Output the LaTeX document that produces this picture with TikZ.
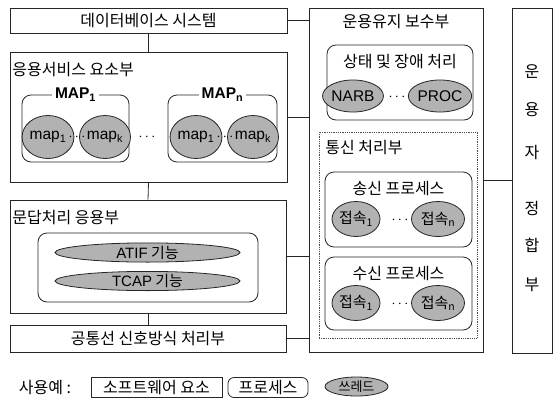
\documentclass[tikz,border=0pt]{standalone}
\usepackage{fontspec}
\setmainfont{Noto Sans CJK KR}
\newfontfamily\lat{Liberation Sans}
\usetikzlibrary{shapes.geometric}
\tikzset{
        every picture/.style={line width=0.8pt},
        sysbox/.style={draw=black!85, rectangle, inner sep=0pt, font=\fontsize{16}{18}\selectfont},
        procbox/.style={draw=black!85, rectangle, rounded corners=9pt, inner sep=0pt},
        dotbox/.style={draw=black!70, densely dotted, rectangle, inner sep=0pt},
        thread/.style={draw=black!85, ellipse, inner sep=0pt, fill=black!30, font=\fontsize{15}{17}\selectfont},
        latthread/.style={thread, font=\fontsize{15.5}{17}\selectfont\lat},
        title/.style={inner sep=0pt, font=\fontsize{16}{18}\selectfont},
        maptitle/.style={fill=white, inner xsep=3pt, inner ysep=0pt, font=\fontsize{15.5}{17}\selectfont\lat\bfseries},
        dots/.style={inner sep=0pt, font=\Large}
          }

\begin{document}
\begin{tikzpicture}[x=1pt, y=-1pt]
        \useasboundingbox (0,0) rectangle (554,402);
        % left column
        \node[sysbox, minimum width=277, minimum height=25] (db) at (148.5,20.5) {데이터베이스 시스템};
        \node[sysbox, minimum width=277, minimum height=130] (app) at (148.5,117) {};
        \node[title, anchor=west] (apptitle) at (12,70) {응용서비스 요소부};
        \node[procbox, minimum width=107, minimum height=67] (map1) at (75.5,128.5) {};
        \node[maptitle] (map1title) at (map1.north) {MAP\textsubscript{1}};
        \node[latthread, minimum width=44, minimum height=43] (m11) at (48,137) {map\textsubscript{1}};
        \node[latthread, minimum width=42, minimum height=43] (m1k) at (105,137) {map\textsubscript{k}};
        \node[dots] (d1) at (77,137) {$\cdots$};
        \node[dots] (dmid) at (147,137) {$\cdots$};
        \node[procbox, minimum width=109, minimum height=67] (mapn) at (222.5,128.5) {};
        \node[maptitle] (mapntitle) at (mapn.north) {MAP\textsubscript{n}};
        \node[latthread, minimum width=44, minimum height=43] (mn1) at (196,137) {map\textsubscript{1}};
        \node[latthread, minimum width=42, minimum height=43] (mnk) at (253,137) {map\textsubscript{k}};
        \node[dots] (d2) at (225,137) {$\cdots$};

        \node[sysbox, minimum width=276, minimum height=113] (qa) at (148,256.5) {};
        \node[title, anchor=west] (qatitle) at (12,218) {문답처리 응용부};
        \node[procbox, minimum width=220, minimum height=69] (qaproc) at (148,267.5) {};
        \node[thread, minimum width=185, minimum height=19] (atif) at (147.5,252.5) {{\lat ATIF} 기능};
        \node[thread, minimum width=185, minimum height=19] (tcap) at (147.5,281) {{\lat TCAP} 기능};
        \node[sysbox, minimum width=276, minimum height=27] (cs) at (148,338.5) {공통선 신호방식 처리부};

        % right column
        \node[sysbox, minimum width=174, minimum height=344] (om) at (396,180) {};
        \node[title] (omtitle) at (396,22) {운용유지 보수부};
        \node[procbox, minimum width=146, minimum height=75] (fault) at (400,82.5) {};
        \node[title] (faulttitle) at (400,62) {상태 및 장애 처리};
        \node[latthread, minimum width=46, minimum height=32] (narb) at (353,96) {NARB};
        \node[latthread, minimum width=50, minimum height=32] (proc) at (440,96) {PROC};
        \node[dots] (d3) at (397,97) {$\cdots$};

        \node[dotbox, minimum width=158, minimum height=206] (comm) at (398,235) {};
        \node[title, anchor=west] (commtitle) at (325,148) {통신 처리부};
        \node[procbox, minimum width=147, minimum height=75] (tx) at (398.5,209.5) {};
        \node[title] (txtitle) at (398.5,189) {송신 프로세스};
        \node[thread, minimum width=48, minimum height=35] (tx1) at (356,219) {접속\textsubscript{1}};
        \node[thread, minimum width=53, minimum height=35] (txn) at (438,219) {접속\textsubscript{n}};
        \node[dots] (d4) at (400,220) {$\cdots$};
        \node[procbox, minimum width=147, minimum height=73] (rx) at (398.5,293.5) {};
        \node[title] (rxtitle) at (398.5,274) {수신 프로세스};
        \node[thread, minimum width=48, minimum height=35] (rx1) at (356,303) {접속\textsubscript{1}};
        \node[thread, minimum width=53, minimum height=35] (rxn) at (438,303) {접속\textsubscript{n}};
        \node[dots] (d5) at (400,304) {$\cdots$};

        \node[sysbox, minimum width=40, minimum height=345] (opr) at (532,180.5) {};
        \foreach \ch/\yy in {운/72, 용/110, 자/153, 정/208, 합/245, 부/285}
          \node[title] at (532,\yy) {\ch};

        % connectors
        \draw[black!85] (db.south) -- (app.north);
        \draw[black!85] (app.south) -- (qa.north);
        \draw[black!85] (qa.south) -- (cs.north);
        \draw[black!85] (db.east) -- (db.east -| om.west);
        \draw[black!85] (app.east) -- (app.east -| om.west);
        \draw[black!85] (qa.east) -- (qa.east -| om.west);
        \draw[black!85] (cs.east) -- (cs.east -| om.west);
        \draw[black!85] (om.east) -- (om.east -| opr.west);

        % legend
        \node[title] (ex) at (45,388) {사용예 :};
        \node[sysbox, minimum width=131, minimum height=20] (exsw) at (156.5,387.5) {소프트웨어 요소};
        \node[procbox, rounded corners=6pt, minimum width=80, minimum height=20, font=\fontsize{16}{18}\selectfont] (exproc) at (268,387.5) {프로세스};
        \node[thread, minimum width=63, minimum height=19, font=\fontsize{13}{15}\selectfont] (exthr) at (356.5,386.5) {쓰레드};
\end{tikzpicture}
\end{document}
